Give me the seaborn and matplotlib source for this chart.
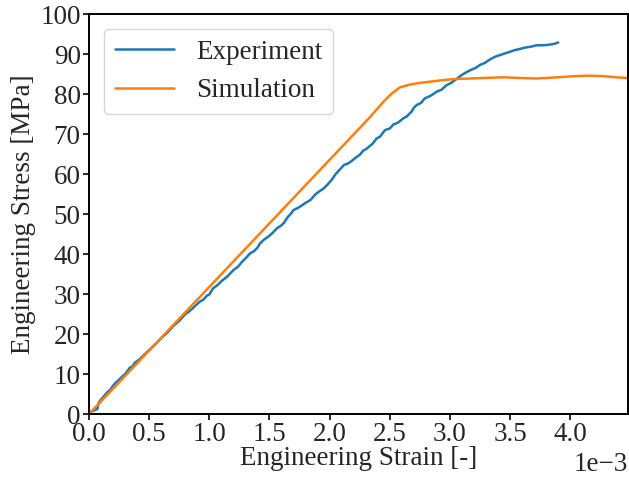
import matplotlib
matplotlib.use("Agg")
import matplotlib.pyplot as plt
import pandas as pd
import seaborn as sns

# strain values in 1e-3, stress in MPa
exp_strain = [0.0, 0.03, 0.05, 0.07, 0.08, 0.10, 0.12, 0.15, 0.18, 0.20, 0.22, 0.25, 0.28,
              0.30, 0.34, 0.36, 0.38, 0.42, 0.45, 0.50, 0.55, 0.60, 0.65, 0.70, 0.75, 0.80,
              0.83, 0.86, 0.92, 0.95, 0.98, 1.00, 1.03, 1.07, 1.10, 1.15, 1.20, 1.24, 1.27,
              1.30, 1.34, 1.37, 1.40, 1.42, 1.45, 1.50, 1.53, 1.56, 1.60, 1.62, 1.65, 1.68,
              1.70, 1.74, 1.77, 1.80, 1.84, 1.88, 1.91, 1.95, 1.98, 2.02, 2.05, 2.08, 2.12,
              2.15, 2.18, 2.22, 2.25, 2.28, 2.30, 2.33, 2.36, 2.39, 2.42, 2.46, 2.50, 2.53,
              2.57, 2.61, 2.64, 2.68, 2.70, 2.725, 2.76, 2.79, 2.84, 2.89, 2.93, 2.97, 3.01,
              3.06, 3.09, 3.12, 3.17, 3.21, 3.25, 3.29, 3.335, 3.38, 3.42, 3.46, 3.50, 3.54,
              3.57, 3.62, 3.68, 3.72, 3.77, 3.81, 3.86, 3.90]
exp_stress = [0.3, 0.8, 1.0, 1.3, 2.8, 3.6, 4.3, 5.4, 6.2, 7.1, 7.8, 8.6, 9.5,
              10.0, 11.6, 11.9, 12.8, 13.7, 14.6, 16.0, 17.4, 19.0, 20.3, 22.0, 23.3, 25.0,
              25.6, 26.4, 28.1, 28.6, 29.6, 29.9, 31.4, 32.3, 33.2, 34.4, 36.0, 36.9, 38.0,
              38.9, 40.2, 40.7, 41.6, 42.6, 43.5, 44.6, 45.4, 46.4, 47.2, 47.8, 49.2, 50.2,
              51.0, 51.6, 52.2, 52.8, 53.5, 54.9, 55.6, 56.4, 57.3, 58.7, 60.0, 61.0, 62.3,
              62.6, 63.2, 64.2, 64.8, 65.9, 66.2, 66.9, 67.7, 68.9, 69.4, 71.0, 71.4, 72.4,
              72.9, 73.9, 74.4, 75.6, 76.6, 77.3, 77.8, 78.9, 79.6, 80.6, 81.1, 82.2, 82.8,
              83.9, 84.6, 85.2, 86.0, 86.5, 87.3, 87.8, 88.7, 89.4, 89.8, 90.2, 90.6, 91.0,
              91.2, 91.6, 91.9, 92.2, 92.2, 92.3, 92.5, 92.9]

sim_strain = [0.0, 2.337, 2.447, 2.517, 2.586, 2.67, 2.75, 2.835, 2.93, 3.03, 3.17, 3.30,
              3.445, 3.60, 3.72, 3.90, 4.02, 4.14, 4.27, 4.38, 4.48]
sim_stress = [0.0, 74.3, 78.1, 80.2, 81.7, 82.4, 82.8, 83.1, 83.45, 83.75, 83.9, 84.05,
              84.2, 84.0, 83.9, 84.2, 84.45, 84.6, 84.5, 84.2, 84.0]

exp_df = pd.DataFrame({"strain": [s * 1e-3 for s in exp_strain], "stress": exp_stress})
sim_df = pd.DataFrame({"strain": [s * 1e-3 for s in sim_strain], "stress": sim_stress})

FS = 19.5

sns.set_style("ticks")
plt.rcParams["font.family"] = ["Liberation Serif", "DejaVu Serif"]
plt.rcParams["font.size"] = FS
plt.rcParams["xtick.direction"] = "out"
plt.rcParams["ytick.direction"] = "out"

fig = plt.figure(figsize=(6.29, 4.86), dpi=100)
ax = fig.add_axes([0.1415, 0.148, 0.857, 0.823])

sns.lineplot(data=exp_df, x="strain", y="stress", ax=ax, color="#1f77b4",
             linewidth=1.8, label="Experiment", sort=False, estimator=None)
sns.lineplot(data=sim_df, x="strain", y="stress", ax=ax, color="#ff7f0e",
             linewidth=1.8, label="Simulation", sort=False, estimator=None)

ax.set_xlim(0, 0.00448)
ax.set_ylim(0, 100)
ax.set_xticks([i * 0.0005 for i in range(9)])
ax.set_yticks(range(0, 101, 10))
ax.ticklabel_format(axis="x", style="sci", scilimits=(0, 0))
ax.tick_params(labelsize=FS, width=1.4, length=4.5, pad=1.5)
ax.xaxis.get_offset_text().set_fontsize(FS)
for sp in ax.spines.values():
    sp.set_linewidth(1.4)
    sp.set_color("black")

ax.set_xlabel("Engineering Strain [-]", fontsize=FS, labelpad=-1)
ax.set_ylabel("Engineering Stress [MPa]", fontsize=FS, labelpad=3)
ax.legend(loc="upper left", fontsize=FS, handlelength=2.2, borderaxespad=0.55)

fig.savefig("out.png", dpi=100)
